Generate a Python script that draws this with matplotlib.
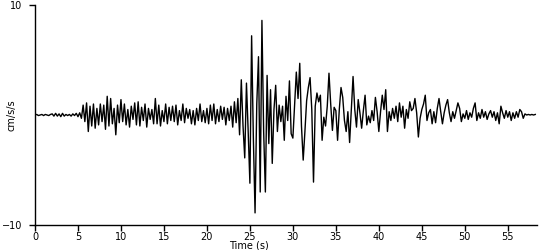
import numpy as np
import matplotlib
matplotlib.use('Agg')
import matplotlib.pyplot as plt

dt = 0.2

# acceleration (cm/s/s), one row = 2 s
acc = [
    0.0, 0.05, -0.05, 0.0, 0.05, -0.05, 0.05, 0.0, -0.05, 0.05,
    0.1, -0.1, 0.15, -0.1, 0.1, -0.15, 0.15, -0.1, 0.05, -0.05,
    0.05, -0.1, 0.1, -0.05, 0.15, -0.15, 0.2, -0.3, 0.9, -0.6,
    1.1, -1.5, 0.8, -1.0, 1.0, -1.2, 0.6, -0.9, 1.0, -0.6,
    0.9, -1.3, 1.7, -1.0, 1.5, -0.8, 0.6, -1.8, 0.9, -0.7,
    1.4, -0.6, 1.0, -0.9, 0.5, -1.1, 0.8, -0.4, 1.1, -0.9,
    1.2, -1.0, 0.7, -0.5, 1.0, -1.1, 0.6, -0.4, 0.5, -0.8,
    1.5, -0.8, 0.9, -1.0, 0.4, -0.6, 1.0, -0.8, 0.7, -0.5,
    0.8, -0.6, 0.9, -0.9, 0.4, -0.5, 1.0, -0.7, 0.6, -0.3,
    0.5, -0.8, 0.4, -0.9, 0.6, -0.5, 1.0, -0.6, 0.4, -0.7,
    0.6, -0.8, 0.9, -0.5, 1.0, -0.8, 0.5, -0.6, 0.8, -0.4,
    0.7, -0.9, 0.6, -0.5, 0.8, -1.1, 1.2, -0.7, 1.5, -1.8,
    3.2, -1.0, -3.9, 2.9, -1.5, -6.2, 7.2, -2.0, -8.9, 1.0,
    5.3, -7.0, 8.6, -1.5, -7.0, 3.6, -2.6, 2.3, -4.4, 0.5,
    2.7, -1.5, 0.9, -0.6, 0.8, -2.3, 1.7, -0.5, 3.1, -1.7,
    -2.1, 1.0, 3.9, 1.5, 4.7, -1.0, -4.1, -1.5, 1.3, 2.5,
    3.4, 0.5, -6.1, 0.8, 2.0, 1.2, 1.8, -2.3, -0.2, -1.0,
    0.8, 3.8, 1.0, -1.4, 0.7, 0.4, -2.3, 0.5, 2.5, 1.6,
    -0.5, -1.5, 0.3, -2.5, 0.5, 3.5, 0.5, -1.1, 1.4, 0.2,
    -1.2, 0.4, 1.8, -0.9, -0.1, -0.7, 0.4, -0.5, 1.6, 0.3,
    -1.5, 0.3, 1.8, 0.5, 2.3, -1.5, 0.3, -0.5, 0.6, -0.3,
    0.8, -0.6, 1.1, -0.2, 0.8, -1.2, 0.5, -0.3, 1.2, 0.4,
    0.6, 1.5, 0.2, -2.0, -0.3, 0.5, 1.0, 1.8, -0.5, 0.2,
    0.5, -0.8, 0.3, -0.7, 0.6, 1.5, 0.3, -0.8, 0.2, 0.9,
    1.4, 0.2, -0.6, 0.3, -0.3, 0.4, 1.1, 0.6, -0.6, 0.1,
    -0.3, 0.4, -0.4, 0.2, -0.2, 0.6, 1.1, -0.5, 0.2, -0.3,
    0.5, -0.2, 0.3, -0.4, 0.1, 0.4, -0.2, 0.3, -0.5, 0.2,
    -0.8, 0.8, 0.2, -0.3, 0.4, -0.2, 0.3, -0.5, 0.2, -0.3,
    0.3, -0.2, 0.5, 0.3, -0.3, 0.1, 0.0, 0.05, 0.0, 0.05,
    0.0, 0.05,
]
t = np.arange(len(acc)) * dt

xticks = [0, 5, 10, 15, 20, 25, 30, 35, 40, 45, 50, 55]
yticks = [-10, 10]

fig = plt.figure(figsize=(5.5, 2.5), dpi=100)
ax = fig.add_axes([35/550, 25/250, 502/550, 220/250])
ax.plot(t, acc, color='black', lw=1.0)

ax.set_xlim(0, 58.4)
ax.set_ylim(-10, 10)
ax.set_xticks(xticks)
ax.set_yticks(yticks)
ax.tick_params(labelsize=7, length=4, width=1, color='black')
ax.tick_params(axis='x', pad=1)
ax.tick_params(axis='y', pad=5)
for s in ['top', 'right']:
    ax.spines[s].set_visible(False)
for s in ['left', 'bottom']:
    ax.spines[s].set_linewidth(1)

ax.set_xlabel('Time (s)', fontsize=7)
ax.xaxis.set_label_coords(0.426, -0.072)
ax.set_ylabel('cm/s/s', fontsize=7)
ax.yaxis.set_label_coords(-0.036, 0.5)

fig.savefig('out.png', dpi=100)
